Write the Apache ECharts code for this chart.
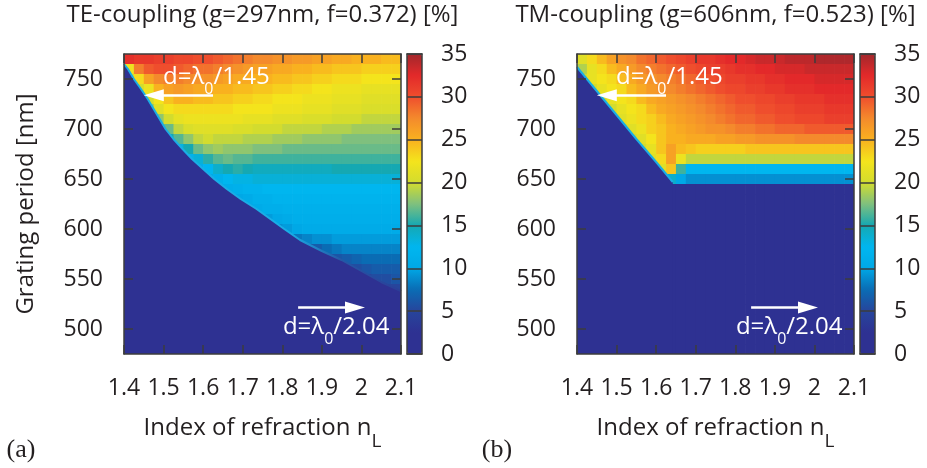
<!DOCTYPE html>
<html>
<head>
<meta charset="utf-8">
<title>Grating coupling maps</title>
<script src="https://cdn.jsdelivr.net/npm/echarts@6/dist/echarts.min.js"></script>
<style>
  html, body { margin: 0; padding: 0; background: #ffffff; }
  #chart { width: 927px; height: 468px; }
</style>
</head>
<body>
<div id="chart"></div>
<script>
// Cell centres of the simulation grid: refractive index n_L (columns) and grating period in nm (rows).
const indexCenters = [1.4125, 1.4375, 1.4625, 1.4875, 1.5125, 1.5375, 1.5625, 1.5875, 1.6125, 1.6375,
                      1.6625, 1.6875, 1.7125, 1.7375, 1.7625, 1.7875, 1.8125, 1.8375, 1.8625, 1.8875,
                      1.9125, 1.9375, 1.9625, 1.9875, 2.0125, 2.0375, 2.0625, 2.0875];
const periodCenters = [770, 760, 750, 740, 730, 720, 710, 700, 690, 680, 670, 660, 650, 640, 630,
                       620, 610, 600, 590, 580, 570, 560, 550, 540, 530, 520, 510, 500, 490, 480];

// Axis tick values
const indexTicks = [1.4, 1.5, 1.6, 1.7, 1.8, 1.9, 2.0, 2.1];
const periodTicks = [500, 550, 600, 650, 700, 750];
const scaleTicks = [0, 5, 10, 15, 20, 25, 30, 35];

// TE coupling efficiency [%], one row per period (770 nm at the top)
const teCoupling = [
  [32,31.5,31.5,31,31,30.5,30.5,30,30,29.5,29,28.5,28,27.5,27.5,27,27,26.5,26.5,26,26,25.5,25.5,25,25,25,24.5,24.5],
  [22,28,29.5,30,30,29.5,29,28.5,28.5,28,27.5,27,26.5,26,26,25.5,25.5,25,25,24.5,24.5,24,24,24,23.5,23.5,23.5,23.5],
  [20,23,26,27.5,28,28,27.5,27,27,26.5,26,25.5,25.5,25,25,24.5,24.5,24,24,23.5,23.5,23,23,23,22.5,22.5,22.5,22.5],
  [0,20,22,25,26,26.5,26,25.5,25.5,25,25,24.5,24.5,24,24,23.5,23.5,23,23,22.5,22.5,22,22,22,21.5,21.5,21.5,21.5],
  [0,0,20,22.5,24,25,25,24.5,24.5,24,24,23.5,23.5,23,23,22.5,22.5,22.5,22,22,22,21.5,21.5,21.5,21,21,21,21],
  [0,0,18,21,22.5,23,23,23,23,23,23,22.5,22.5,22.5,22.5,22,22,22,21.5,21.5,21.5,21,21,21,20.5,20.5,20.5,20.5],
  [0,0,0,18,20,21.5,22,22,22,22,22,22,21.5,21.5,21.5,21,21,21,20.5,20.5,20.5,20,20,20,19.5,19.5,19.5,19.5],
  [0,0,0,16,17,19.5,20.5,21,21,21,21,20.5,20.5,20,20,20,19.5,19.5,19.5,19.5,19,19,19,18.5,18.5,18.5,18.5,18.5],
  [0,0,0,0,15,16.5,18,19.5,20,19.5,19.5,19.5,19,19,19,18.5,18.5,18.5,18,18,18,18,17.5,17.5,17.5,17.5,17.5,17.5],
  [0,0,0,0,0,13,15,17,18,18.5,18,18,18,17.5,17.5,17.5,17,17,17,17,17,17,17,17,17,17,17,17],
  [0,0,0,0,0,0,12,13.5,15.5,16.5,17,16.5,16.5,16,16,16,16,16,16,16,16,16,16,16,16,16,16,16],
  [0,0,0,0,0,0,0,11,12.5,14,15,15.5,15,14.5,14.5,14.5,14.5,14.5,14.5,14.5,14.5,15,15,15,15,15,15,15],
  [0,0,0,0,0,0,0,0,10.5,11.5,12.5,13,13,13.5,13.5,13.5,13.5,13.5,13.5,13.5,13.5,13.5,13.5,13.5,13.5,13.5,13.5,13.5],
  [0,0,0,0,0,0,0,0,0,10,11,11.5,12,12,12.5,12.5,12.5,12.5,12.5,12.5,12.5,12.5,12.5,12.5,12.5,12.5,12.5,12.5],
  [0,0,0,0,0,0,0,0,0,0,0,10,10.5,11.5,11.5,12,12,12,12,12,12,12,12,12,12,12,12,12],
  [0,0,0,0,0,0,0,0,0,0,0,0,10,10.5,11,11,11.5,11.5,11.5,11.5,11.5,11.5,11.5,11.5,11.5,11.5,11.5,11.5],
  [0,0,0,0,0,0,0,0,0,0,0,0,0,0,9.5,10,10.5,11,11,11,11,11,11,11,11,11,11,11],
  [0,0,0,0,0,0,0,0,0,0,0,0,0,0,0,9,9.5,10,10.5,10.5,10.5,10.5,10.5,10.5,10.5,10.5,10.5,10.5],
  [0,0,0,0,0,0,0,0,0,0,0,0,0,0,0,0,0,8,8.5,9,9,9.5,9.5,9.5,9.5,9.5,9.5,9.5],
  [0,0,0,0,0,0,0,0,0,0,0,0,0,0,0,0,0,0,6,6.5,7.5,8,8.5,8.5,8.5,8.5,8.5,8.5],
  [0,0,0,0,0,0,0,0,0,0,0,0,0,0,0,0,0,0,0,0,5.5,6,6.5,7,7.5,7.5,7.5,7.5],
  [0,0,0,0,0,0,0,0,0,0,0,0,0,0,0,0,0,0,0,0,0,0,5.5,5.5,6,6.5,6.5,6.5],
  [0,0,0,0,0,0,0,0,0,0,0,0,0,0,0,0,0,0,0,0,0,0,0,0,5,5.5,5.5,6],
  [0,0,0,0,0,0,0,0,0,0,0,0,0,0,0,0,0,0,0,0,0,0,0,0,0,4.5,5,5],
  [0,0,0,0,0,0,0,0,0,0,0,0,0,0,0,0,0,0,0,0,0,0,0,0,0,0,4,4.5],
  [0,0,0,0,0,0,0,0,0,0,0,0,0,0,0,0,0,0,0,0,0,0,0,0,0,0,0,0],
  [0,0,0,0,0,0,0,0,0,0,0,0,0,0,0,0,0,0,0,0,0,0,0,0,0,0,0,0],
  [0,0,0,0,0,0,0,0,0,0,0,0,0,0,0,0,0,0,0,0,0,0,0,0,0,0,0,0],
  [0,0,0,0,0,0,0,0,0,0,0,0,0,0,0,0,0,0,0,0,0,0,0,0,0,0,0,0],
  [0,0,0,0,0,0,0,0,0,0,0,0,0,0,0,0,0,0,0,0,0,0,0,0,0,0,0,0]
];

// TM coupling efficiency [%], one row per period (770 nm at the top)
const tmCoupling = [
  [21,23,24.5,26,27,27.5,28.5,29,29.5,30,30.5,31,31.5,31.5,32,32.5,32.5,33,33.5,33.5,33.5,34,34,34,34.5,34.5,34.5,34.5],
  [19,21.5,23,24.5,25.5,26.5,27.5,28,28.5,29,29.5,30,30.5,31,31,31.5,32,32,32.5,32.5,33,33,33,33.5,33.5,33.5,33.5,33.5],
  [20,21.5,22.5,23,24.5,25.5,26.5,27,27.5,28,28.5,29,29.5,30,30.5,31,31,31.5,31.5,32,32,32.5,32.5,32.5,33,33,33,33],
  [0,20,21.5,22.5,23,24.5,25.5,26.5,27,27.5,28,28.5,29,29.5,30,30.5,30.5,31,31,31.5,31.5,32,32,32,32.5,32.5,32.5,32.5],
  [0,0,20,21.5,22.5,23,24.5,25.5,26,26.5,27,27.5,28,28.5,29,29.5,30,30,30.5,30.5,31,31,31.5,31.5,31.5,32,32,32],
  [0,0,0,20,21.5,22.5,23,24.5,25.5,26,26.5,27,27.5,28,28.5,29,29.5,29.5,30,30,30.5,30.5,31,31,31,31.5,31.5,31.5],
  [0,0,0,20,21,22,23,23.5,24.5,25.5,26,26.5,27,27.5,28,28.5,29,29,29.5,29.5,30,30,30.5,30.5,30.5,31,31,31],
  [0,0,0,0,20,21,22,23.5,24,25,25.5,26,26.5,27,27,27.5,28,28,28.5,28.5,29,29,29,29.5,29.5,29.5,29.5,29.5],
  [0,0,0,0,0,20,21,22.5,24,25,25,25.5,25.5,25.5,26,26,26.5,26.5,27,27,27,27,27.5,27.5,27.5,27.5,27.5,27.5],
  [0,0,0,0,0,0,20,21.5,24,26,24.5,24,23.5,23.5,23.5,23.5,23.5,24,24,24,24,24,24,24,24,24,24,24],
  [0,0,0,0,0,0,0,21,23,26,22,19.5,19.5,19.5,19.5,19.5,19.5,19.5,19.5,19.5,19.5,19.5,19.5,19.5,19.5,19.5,19.5,19.5],
  [0,0,0,0,0,0,0,0,21,24,16,12.5,12.5,12.5,12.5,12.5,12.5,12.5,12.5,12.5,12.5,12.5,12.5,12.5,12.5,12.5,12.5,12.5],
  [0,0,0,0,0,0,0,0,0,14,10,9,9,9,9,9,9,9,9,9,9,9,9,9,9,9,9,9],
  [0,0,0,0,0,0,0,0,0,0,0,0,0,0,0,0,0,0,0,0,0,0,0,0,0,0,0,0],
  [0,0,0,0,0,0,0,0,0,0,0,0,0,0,0,0,0,0,0,0,0,0,0,0,0,0,0,0],
  [0,0,0,0,0,0,0,0,0,0,0,0,0,0,0,0,0,0,0,0,0,0,0,0,0,0,0,0],
  [0,0,0,0,0,0,0,0,0,0,0,0,0,0,0,0,0,0,0,0,0,0,0,0,0,0,0,0],
  [0,0,0,0,0,0,0,0,0,0,0,0,0,0,0,0,0,0,0,0,0,0,0,0,0,0,0,0],
  [0,0,0,0,0,0,0,0,0,0,0,0,0,0,0,0,0,0,0,0,0,0,0,0,0,0,0,0],
  [0,0,0,0,0,0,0,0,0,0,0,0,0,0,0,0,0,0,0,0,0,0,0,0,0,0,0,0],
  [0,0,0,0,0,0,0,0,0,0,0,0,0,0,0,0,0,0,0,0,0,0,0,0,0,0,0,0],
  [0,0,0,0,0,0,0,0,0,0,0,0,0,0,0,0,0,0,0,0,0,0,0,0,0,0,0,0],
  [0,0,0,0,0,0,0,0,0,0,0,0,0,0,0,0,0,0,0,0,0,0,0,0,0,0,0,0],
  [0,0,0,0,0,0,0,0,0,0,0,0,0,0,0,0,0,0,0,0,0,0,0,0,0,0,0,0],
  [0,0,0,0,0,0,0,0,0,0,0,0,0,0,0,0,0,0,0,0,0,0,0,0,0,0,0,0],
  [0,0,0,0,0,0,0,0,0,0,0,0,0,0,0,0,0,0,0,0,0,0,0,0,0,0,0,0],
  [0,0,0,0,0,0,0,0,0,0,0,0,0,0,0,0,0,0,0,0,0,0,0,0,0,0,0,0],
  [0,0,0,0,0,0,0,0,0,0,0,0,0,0,0,0,0,0,0,0,0,0,0,0,0,0,0,0],
  [0,0,0,0,0,0,0,0,0,0,0,0,0,0,0,0,0,0,0,0,0,0,0,0,0,0,0,0],
  [0,0,0,0,0,0,0,0,0,0,0,0,0,0,0,0,0,0,0,0,0,0,0,0,0,0,0,0]
];

// Onset of coupling: below this curve no light is coupled (n_L, period in nm)
const teCutoffIndex  = [1.4, 1.41, 1.425, 1.443, 1.46, 1.475, 1.49, 1.505, 1.525, 1.548, 1.572, 1.6, 1.628,
                        1.66, 1.695, 1.735, 1.77, 1.805, 1.845, 1.9, 1.95, 2.0, 2.05, 2.1];
const teCutoffPeriod = [765, 760, 750, 740, 730, 720, 710, 700, 690, 680, 670, 660, 650,
                        640, 630, 620, 610, 600, 589, 578, 569, 558, 547, 538];
const tmCutoffIndex  = [1.4, 1.45, 1.5, 1.55, 1.6, 1.642];
const tmCutoffPeriod = [762, 738, 714, 690, 667, 647];

// Design wavelength and the two diffraction limits d = lambda0 / n marked by arrows
const lambda0 = 1064;
const upperLimit = 1.45;
const lowerLimit = 2.04;
const upperArrowIndex = [1.625, 1.45];   // tail, tip (n_L)
const lowerArrowIndex = [1.84, 2.009];   // tail, tip (n_L)
const labelIndex = [1.4985, 1.8015];     // left edge of the two labels (n_L)
const labelPeriod = [752, 502];

// Jet-like colour scale, stops every 2.5 % from 0 to 35 %
const scaleColors = ['#2E3192', '#2E3192', '#27459C', '#0A6CB4', '#00A8E6', '#00B6EF', '#15A8B2',
                     '#7FC07E', '#D3DC2E', '#F4E41C', '#F9B11F', '#F48A2C', '#EF4E2D', '#E3292A', '#A2282C'];

// ---- layout ----
const FONT = '"Open Sans", "Noto Sans", sans-serif';
const INK = '#231F20';
const FRAME = '#3C3C3C';
const FLOOR = scaleColors[0];
const EDGE = '#1AAEE6';
const PLOT_TOP = 54, PLOT_W = 277, PLOT_H = 300, BAR_W = 15;

// rim of the uncoupled region: cyan where the onset is abrupt, fading into the blue tail
const teRim = new echarts.graphic.LinearGradient(0, 0, 1, 0, [
  { offset: 0, color: EDGE }, { offset: 0.6, color: EDGE },
  { offset: 0.78, color: '#2458A6' }, { offset: 1, color: '#2B3D97' }
]);

const panels = [
  { left: 124, barLeft: 407, title: 'TE-coupling (g=297nm, f=0.372) [%]', tag: '(a)', tagX: 21,
    rows: teCoupling, cutIndex: teCutoffIndex, cutPeriod: teCutoffPeriod, rim: teRim },
  { left: 577, barLeft: 860, title: 'TM-coupling (g=606nm, f=0.523) [%]', tag: '(b)', tagX: 497,
    rows: tmCoupling, cutIndex: tmCutoffIndex, cutPeriod: tmCutoffPeriod, rim: EDGE }
];
const X_MIN = 1.4, X_MAX = 2.1, Y_MIN = 475, Y_MAX = 775;
const CELL_W = indexCenters[1] - indexCenters[0];
const CELL_H = periodCenters[0] - periodCenters[1];
const HEAD_LEN = 20, HEAD_W = 12;
const headShift = (HEAD_LEN / 2) * (X_MAX - X_MIN) / PLOT_W;

function toCells(rows) {
  const out = [];
  rows.forEach((row, r) => row.forEach((v, c) => out.push([indexCenters[c], periodCenters[r], v])));
  return out;
}

function renderCell(params, api) {
  const x = api.value(0), y = api.value(1);
  const a = api.coord([x - CELL_W / 2, y + CELL_H / 2]);
  const b = api.coord([x + CELL_W / 2, y - CELL_H / 2]);
  return {
    type: 'rect',
    shape: { x: a[0], y: a[1], width: b[0] - a[0] + 0.7, height: b[1] - a[1] + 0.7 },
    style: { fill: api.visual('color') }
  };
}

const frameLine = { show: true, onZero: false, lineStyle: { color: FRAME, width: 1.5 } };
const tickStyle = { color: FRAME, width: 1.5 };
const labelFont = { color: INK, fontFamily: FONT, fontSize: 23 };

const grids = [], xAxes = [], yAxes = [], series = [], visualMaps = [], graphics = [];

panels.forEach(p => grids.push({ left: p.left, top: PLOT_TOP, width: PLOT_W, height: PLOT_H }));
panels.forEach(p => grids.push({ left: p.barLeft, top: PLOT_TOP, width: BAR_W, height: PLOT_H }));

panels.forEach((p, i) => {
  // bottom axis with labels and title, top axis mirroring the ticks
  xAxes.push({
    gridIndex: i, type: 'value', position: 'bottom', min: X_MIN, max: X_MAX, z: 6,
    axisLine: frameLine,
    axisTick: { show: true, inside: true, length: 9, customValues: indexTicks, lineStyle: tickStyle },
    axisLabel: { show: true, customValues: indexTicks, margin: 23, ...labelFont,
                 formatter: v => String(+(+v).toFixed(1)) },
    splitLine: { show: false },
    name: 'Index of refraction n{sub|L}', nameLocation: 'middle', nameGap: 50,
    nameTextStyle: { color: INK, fontFamily: FONT, fontSize: 24, lineHeight: 30,
                     rich: { sub: { color: INK, fontFamily: FONT, fontSize: 19, lineHeight: 46, verticalAlign: 'bottom' } } }
  });
  xAxes.push({
    gridIndex: i, type: 'value', position: 'top', min: X_MIN, max: X_MAX, z: 6,
    axisLine: frameLine,
    axisTick: { show: true, inside: true, length: 9, customValues: indexTicks, lineStyle: tickStyle },
    axisLabel: { show: false }, splitLine: { show: false }
  });
  yAxes.push({
    gridIndex: i, type: 'value', position: 'left', min: Y_MIN, max: Y_MAX, z: 6,
    axisLine: frameLine,
    axisTick: { show: true, inside: true, length: 9, customValues: periodTicks, lineStyle: tickStyle },
    axisLabel: { show: true, customValues: periodTicks, margin: 21, ...labelFont },
    splitLine: { show: false },
    name: i === 0 ? 'Grating period [nm]' : '', nameLocation: 'middle', nameGap: 86, nameRotate: 90,
    nameTextStyle: { color: INK, fontFamily: FONT, fontSize: 24 }
  });
  yAxes.push({
    gridIndex: i, type: 'value', position: 'right', min: Y_MIN, max: Y_MAX, z: 6,
    axisLine: frameLine,
    axisTick: { show: true, inside: true, length: 9, customValues: periodTicks, lineStyle: tickStyle },
    axisLabel: { show: false }, splitLine: { show: false }
  });
});

panels.forEach((p, i) => {
  const g = panels.length + i;
  // colour bar frame and scale
  xAxes.push({ gridIndex: g, type: 'value', position: 'bottom', min: 0, max: 1, z: 6,
               axisLine: frameLine, axisTick: { show: false }, axisLabel: { show: false }, splitLine: { show: false } });
  xAxes.push({ gridIndex: g, type: 'value', position: 'top', min: 0, max: 1, z: 6,
               axisLine: frameLine, axisTick: { show: false }, axisLabel: { show: false }, splitLine: { show: false } });
  yAxes.push({ gridIndex: g, type: 'value', position: 'left', min: 0, max: 35, interval: 5, z: 6,
               axisLine: frameLine, axisTick: { show: false }, axisLabel: { show: false }, splitLine: { show: false } });
  yAxes.push({ gridIndex: g, type: 'value', position: 'right', min: 0, max: 35, interval: 5, z: 6,
               axisLine: frameLine, axisTick: { show: false },
               axisLabel: { show: true, margin: 19, customValues: scaleTicks, ...labelFont },
               splitLine: { show: true, lineStyle: { color: FRAME, width: 1.5 } } });
});

const annoRich = {
  m: { color: '#ffffff', fontFamily: FONT, fontSize: 24, lineHeight: 30 },
  s: { color: '#ffffff', fontFamily: FONT, fontSize: 16, lineHeight: 40, verticalAlign: 'bottom' }
};

panels.forEach((p, i) => {
  const upperP = lambda0 / upperLimit;
  const lowerP = lambda0 / lowerLimit;
  series.push({
    type: 'custom', name: p.title, xAxisIndex: 2 * i, yAxisIndex: 2 * i,
    clip: true, silent: true, animation: false, z: 2,
    encode: { x: 0, y: 1 },
    data: toCells(p.rows),
    renderItem: renderCell,
    markLine: {
      silent: true, animation: false,
      symbol: ['none', 'none'],
      lineStyle: { color: '#ffffff', width: 2.5, type: 'solid' },
      label: { show: false },
      emphasis: { disabled: true },
      data: [
        [{ coord: [upperArrowIndex[0], upperP] }, { coord: [upperArrowIndex[1] + headShift, upperP] }],
        [{ coord: [lowerArrowIndex[0], lowerP] }, { coord: [lowerArrowIndex[1] - headShift, lowerP] }]
      ]
    },
    markPoint: {
      silent: true, animation: false, symbol: 'circle', symbolSize: 0,
      itemStyle: { color: '#ffffff' },
      label: { show: true, position: 'right', distance: 0, rich: annoRich },
      data: [
        { coord: [labelIndex[0], labelPeriod[0]], label: { formatter: '{m|d=λ}{s|0}{m|/' + upperLimit.toFixed(2) + '}' } },
        { coord: [labelIndex[1], labelPeriod[1]], label: { formatter: '{m|d=λ}{s|0}{m|/' + lowerLimit.toFixed(2) + '}' } },
        { coord: [upperArrowIndex[1] + headShift, upperP], symbol: 'triangle', symbolSize: [HEAD_W, HEAD_LEN],
          symbolRotate: 90, itemStyle: { color: '#ffffff' }, label: { show: false } },
        { coord: [lowerArrowIndex[1] - headShift, lowerP], symbol: 'triangle', symbolSize: [HEAD_W, HEAD_LEN],
          symbolRotate: -90, itemStyle: { color: '#ffffff' }, label: { show: false } }
      ]
    }
  });
});

panels.forEach((p, i) => {
  // uncoupled region below the onset curve, with its rim
  series.push({
    type: 'line', xAxisIndex: 2 * i, yAxisIndex: 2 * i, z: 3, silent: true, animation: false,
    symbol: 'none', smooth: false,
    data: p.cutIndex.map((n, k) => [n, p.cutPeriod[k]]),
    lineStyle: { color: p.rim, width: 2 },
    areaStyle: { color: FLOOR, opacity: 1, origin: 'start' }
  });
});

panels.forEach((p, i) => {
  visualMaps.push({
    type: 'continuous', seriesIndex: i, dimension: 2, min: 0, max: 35,
    calculable: false, hoverLink: false, realtime: false, orient: 'vertical',
    left: p.barLeft, top: PLOT_TOP, itemWidth: BAR_W, itemHeight: PLOT_H, padding: 0,
    inRange: { color: scaleColors }, z: 1
  });
  graphics.push({
    type: 'text', x: p.left + PLOT_W / 2, y: 15, silent: true,
    style: { text: p.title, fill: INK, fontFamily: FONT, fontSize: 24, align: 'center', verticalAlign: 'middle' }
  });
  graphics.push({
    type: 'text', x: p.tagX, y: 450, silent: true,
    style: { text: p.tag, fill: INK, fontFamily: '"Liberation Serif", "Times New Roman", serif', fontSize: 26,
             align: 'center', verticalAlign: 'middle' }
  });
});

const chart = echarts.init(document.getElementById('chart'), null, { renderer: 'canvas' });
chart.setOption({
  animation: false,
  backgroundColor: '#ffffff',
  grid: grids,
  xAxis: xAxes,
  yAxis: yAxes,
  visualMap: visualMaps,
  series: series,
  graphic: graphics
});
</script>
</body>
</html>
